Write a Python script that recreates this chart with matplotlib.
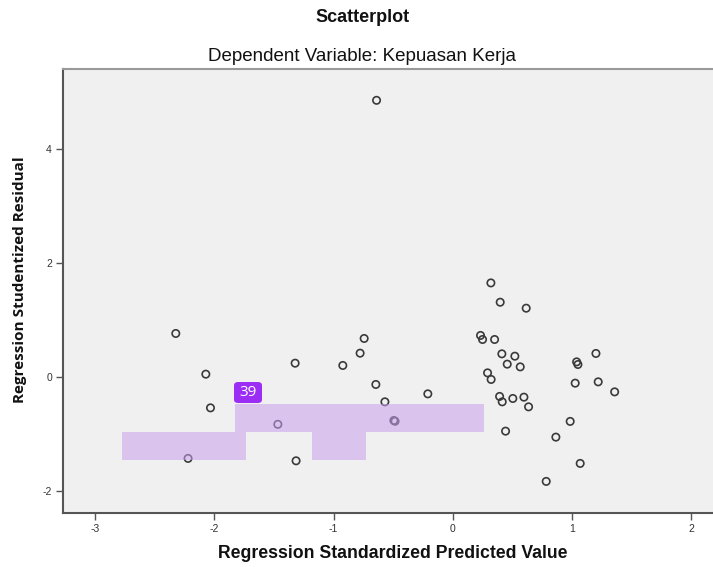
import matplotlib
matplotlib.use('Agg')
import matplotlib.pyplot as plt
from matplotlib.patches import Rectangle, FancyBboxPatch

plt.rcParams['axes.unicode_minus'] = False

# regression standardized predicted value (x) and studentized residual (y)
pred = [-0.640, -2.324, -2.072, -2.033, -1.468, -2.221, -1.323, -1.315, -0.923, -0.778,
        -0.744, -0.646, -0.570, -0.495, -0.485, -0.210, 0.319, 0.397, 0.615, 0.232,
        0.249, 0.350, 0.411, 0.520, 0.456, 0.565, 0.291, 0.321, 0.392, 0.414,
        0.503, 0.596, 0.635, 0.442, 0.984, 0.864, 1.068, 0.783, 1.038, 1.049,
        1.200, 1.026, 1.219, 1.357]
resid = [4.860, 0.764, 0.049, -0.543, -0.832, -1.431, 0.242, -1.473, 0.202, 0.418,
         0.676, -0.132, -0.437, -0.765, -0.778, -0.297, 1.652, 1.313, 1.208, 0.729,
         0.658, 0.658, 0.406, 0.365, 0.225, 0.177, 0.072, -0.044, -0.342, -0.437,
         -0.378, -0.355, -0.525, -0.952, -0.781, -1.057, -1.519, -1.835, 0.265, 0.219,
         0.413, -0.109, -0.086, -0.262]
xticks = [-3, -2, -1, 0, 1, 2]
yticks = [-2, 0, 2, 4]

W, H = 713, 567
fig = plt.figure(figsize=(W / 100, H / 100), dpi=100)
fig.patch.set_facecolor('white')

ax = fig.add_axes([63 / W, 1 - 513 / H, 676 / W, 444 / H])
ax.set_facecolor('#f0f0f0')
ax.scatter(pred, resid, s=28, facecolors='none', edgecolors='#3a3a3a', linewidths=1.2, zorder=3)

ax.set_xlim(-3.27, 2.4)
ax.set_ylim(-2.39, 5.41)
ax.set_xticks(xticks)
ax.set_yticks(yticks)
ax.tick_params(direction='out', length=5, width=1, color='#555555', labelsize=7.5, labelcolor='#333333', pad=3)
for s in ax.spines.values():
    s.set_color('#555555')
    s.set_linewidth(1.5)
ax.spines['top'].set_color('#999999')

fnt = ['Liberation Sans', 'DejaVu Sans']
for lab in ax.get_xticklabels() + ax.get_yticklabels():
    lab.set_family(fnt)

fig.text(0.508, 1 - 17 / H, 'Scatterplot', ha='center', va='center', fontsize=13,
         fontweight='bold', family=fnt, color='#111111')
fig.text(0.508, 1 - 57 / H, 'Dependent Variable: Kepuasan Kerja', ha='center', va='center',
         fontsize=13.5, family=fnt, color='#111111')
fig.text(393 / W, 1 - 553 / H, 'Regression Standardized Predicted Value', ha='center', va='center',
         fontsize=12.7, fontweight='bold', family=fnt, color='#111111')
fig.text(20 / W, 1 - 280 / H, 'Regression Studentized Residual', ha='center', va='center',
         rotation=90, fontsize=11, fontweight='bold', family=['Open Sans', 'DejaVu Sans'], color='#111111')

# highlight overlay (pixel boxes)
boxes = [(122, 432, 246, 460), (235, 404, 484, 432), (312, 432, 366, 460)]
for x0, y0, x1, y1 in boxes:
    fig.add_artist(Rectangle((x0 / W, 1 - y1 / H), (x1 - x0) / W, (y1 - y0) / H,
                             transform=fig.transFigure, facecolor='#c9a0ee', alpha=0.55,
                             edgecolor='none', zorder=5))
fig.add_artist(FancyBboxPatch((234 / W, 1 - 403 / H), 28 / W, 21 / H,
                              boxstyle='round,pad=0,rounding_size=0.006', transform=fig.transFigure,
                              facecolor='#9b2df5', edgecolor='none', zorder=6))
fig.text(248 / W, 1 - 392.5 / H, '39', ha='center', va='center', fontsize=11,
         family=['Open Sans', 'DejaVu Sans'], color='white', zorder=7)

fig.savefig('out.png', dpi=100)
